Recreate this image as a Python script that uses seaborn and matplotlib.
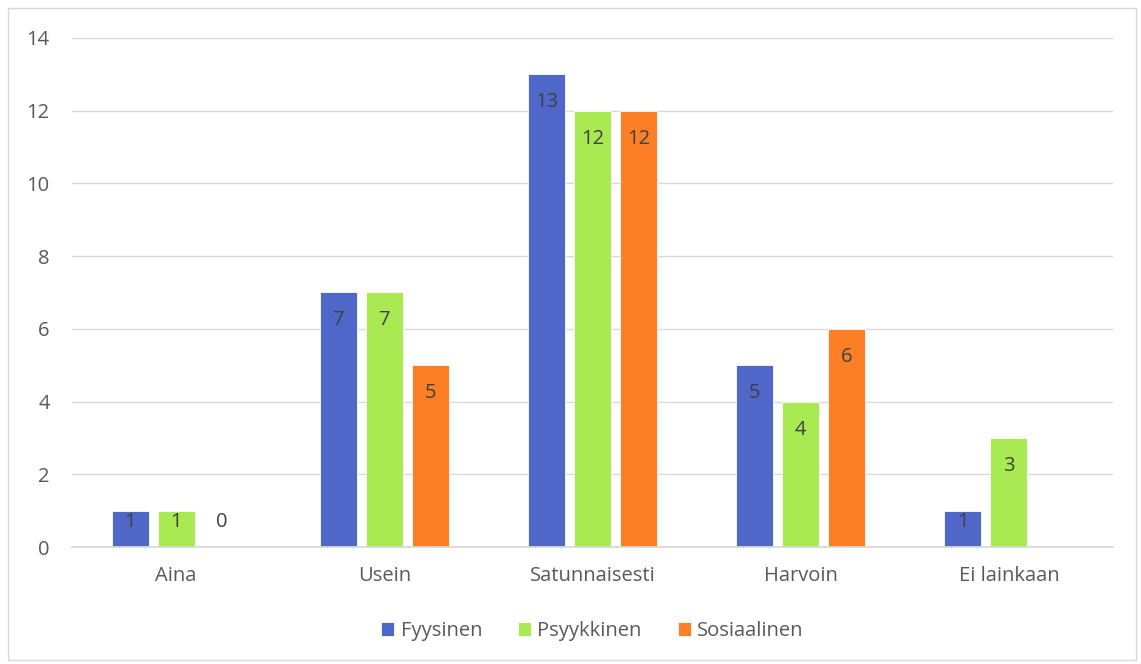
import numpy as np
import pandas as pd
import matplotlib
matplotlib.use("Agg")
import matplotlib.pyplot as plt
import seaborn as sns

categories = ["Aina", "Usein", "Satunnaisesti", "Harvoin", "Ei lainkaan"]
series_names = ["Fyysinen", "Psyykkinen", "Sosiaalinen"]
fyysinen = [1, 7, 13, 5, 1]
psyykkinen = [1, 7, 12, 4, 3]
sosiaalinen = [0, 5, 12, 6, np.nan]
y_ticks = [0, 2, 4, 6, 8, 10, 12, 14]

colors = ["#4F67C9", "#A9EA52", "#FF7F27"]
text_color = "#595959"
label_color = "#404040"

sns.set_theme(style="white")
plt.rcParams["font.family"] = ["Open Sans", "DejaVu Sans"]
FS = 14.5

rows = []
for name, vals in zip(series_names, [fyysinen, psyykkinen, sosiaalinen]):
    for cat, v in zip(categories, vals):
        rows.append({"Luokka": cat, "Sarja": name, "Arvo": v})
df = pd.DataFrame(rows)

fig = plt.figure(figsize=(11.41, 6.64), dpi=100)
ax = fig.add_axes([0.0631, 0.1762, 0.9124, 0.7666])

sns.barplot(data=df, x="Luokka", y="Arvo", hue="Sarja", order=categories,
            hue_order=series_names, palette=colors, width=0.663, gap=0.196,
            saturation=1, edgecolor="white", linewidth=0.6, ax=ax, legend=True)

ax.set_ylim(0, 14)
ax.set_xlim(-0.5, len(categories) - 0.5)
ax.set_yticks(y_ticks)
ax.set_yticklabels([str(t) for t in y_ticks])
ax.set_xlabel("")
ax.set_ylabel("")
ax.yaxis.grid(True, color="#D9D9D9", linewidth=1.0)
ax.set_axisbelow(True)
for s in ["left", "right", "top"]:
    ax.spines[s].set_visible(False)
ax.spines["bottom"].set_color("#D9D9D9")
ax.spines["bottom"].set_linewidth(1.3)
ax.tick_params(axis="y", length=0, pad=16, labelsize=FS, labelcolor=text_color)
ax.tick_params(axis="x", length=0, pad=14, labelsize=FS, labelcolor=text_color)

# value labels sit a fixed distance below the bar top, but never below the floor
label_drop = 0.77
label_floor = 0.69
for container, vals in zip(ax.containers, [fyysinen, psyykkinen, sosiaalinen]):
    for bar, v in zip(container.patches, vals):
        if v is None or (isinstance(v, float) and np.isnan(v)):
            continue
        x = bar.get_x() + bar.get_width() / 2
        y = max(v - label_drop, label_floor)
        ax.text(x, y, f"{int(v)}", ha="center", va="center",
                fontsize=FS, color=label_color)

leg = ax.legend(loc="center", bbox_to_anchor=(0.5, -0.165), ncol=3, frameon=False,
                fontsize=FS, handlelength=0.65, handleheight=0.65,
                handletextpad=0.3, columnspacing=1.8)
for t in leg.get_texts():
    t.set_color(text_color)

# outer chart border
fig.patches.append(plt.Rectangle((8 / 1141, 4 / 664), 1 - 13 / 1141, 1 - 12 / 664,
                                 transform=fig.transFigure, fill=False,
                                 edgecolor="#D9D9D9", linewidth=1.0))

fig.savefig("out.png", dpi=100)
